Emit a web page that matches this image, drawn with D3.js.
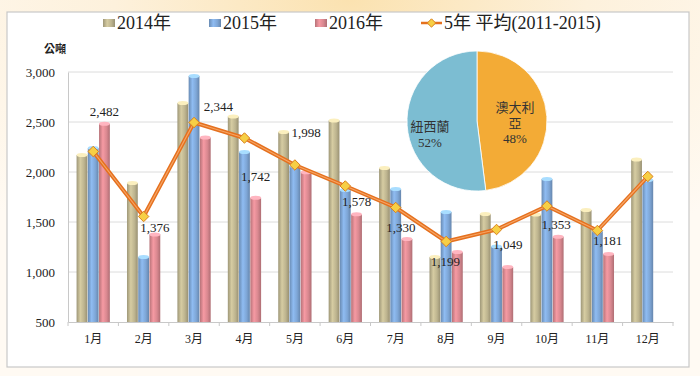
<!DOCTYPE html>
<html>
<head>
<meta charset="utf-8">
<script src="https://cdn.jsdelivr.net/npm/d3@7"></script>
<style>
  body { margin: 0; background: #fff; }
  svg { display: block; }
</style>
</head>
<body>
<svg id="chart" width="700" height="376"></svg>
<script>
"use strict";

// Data -------------------------------------------------------------------
const months = ["1月", "2月", "3月", "4月", "5月", "6月", "7月", "8月", "9月", "10月", "11月", "12月"];
const seriesNames = ["2014年", "2015年", "2016年"];
const values2014 = [2170, 1890, 2690, 2555, 2400, 2515, 2040, 1150, 1580, 1575, 1620, 2125];
const values2015 = [2240, 1150, 2960, 2200, 2060, 1820, 1830, 1600, 1255, 1930, 1410, 1920];
const values2016 = [2482, 1376, 2344, 1742, 1998, 1578, 1330, 1199, 1049, 1353, 1181, null];
const avgName = "5年 平均(2011-2015)";
const avg5yr = [2205, 1555, 2495, 2340, 2070, 1860, 1645, 1305, 1425, 1660, 1415, 1955];
const yTicks = [500, 1000, 1500, 2000, 2500, 3000];
const pieLabels = ["澳大利亞", "紐西蘭"];
const pieShares = [48, 52];

// Layout ---------------------------------------------------------------
const plot = { left: 68, right: 673, top: 72, bottom: 322 };
const frame = { x: 7, y: 12, w: 682, h: 355 };
// per-label nudges for the 2016 data labels (centre offset from bar top)
const labelNudge = [[0, -12], [0, -7], [13, -31], [0, -21], [0, -40], [0, -13],
  [-6, -12], [-12, 9], [0, -23], [-2, -12], [-1, -13], [0, 0]];

const serif = "'Liberation Serif', 'Times New Roman', 'Noto Sans CJK TC', serif";
const barColors = ["#bdb48f", "#7ea6d6", "#d98890"];
const lineColor = "#e5701e";

const svg = d3.select("#chart");
const defs = svg.append("defs");

// background glow
const bg = defs.append("radialGradient").attr("id", "bgGlow")
  .attr("cx", "50%").attr("cy", "0%").attr("r", "75%");
bg.append("stop").attr("offset", "0%").attr("stop-color", "#fbe2b0");
bg.append("stop").attr("offset", "45%").attr("stop-color", "#fdf1dc");
bg.append("stop").attr("offset", "100%").attr("stop-color", "#fffaf3");
svg.append("rect").attr("width", 700).attr("height", 376).attr("fill", "url(#bgGlow)");

svg.append("rect")
  .attr("x", frame.x).attr("y", frame.y)
  .attr("width", frame.w).attr("height", frame.h)
  .attr("fill", "#fff").attr("stroke", "#c8c8c8").attr("stroke-width", 1.2);

// cylinder gradients
barColors.forEach((c, i) => {
  const g = defs.append("linearGradient").attr("id", "bar" + i)
    .attr("x1", "0%").attr("x2", "100%");
  g.append("stop").attr("offset", "0%").attr("stop-color", d3.color(c).darker(0.5));
  g.append("stop").attr("offset", "35%").attr("stop-color", d3.color(c).brighter(0.35));
  g.append("stop").attr("offset", "70%").attr("stop-color", c);
  g.append("stop").attr("offset", "100%").attr("stop-color", d3.color(c).darker(0.6));
});

// Scales -----------------------------------------------------------------
const x = d3.scaleBand().domain(months).range([plot.left, plot.right])
  .paddingInner(0.34).paddingOuter(0.17);
const xs = d3.scaleBand().domain(seriesNames).range([0, x.bandwidth()]).paddingInner(0.04);
const y = d3.scaleLinear().domain([500, 3000]).range([plot.bottom, plot.top]);
const step = x.step();

// grid
svg.append("g").selectAll("line").data(yTicks.slice(1)).join("line")
  .attr("x1", plot.left).attr("x2", plot.right)
  .attr("y1", (d) => y(d)).attr("y2", (d) => y(d))
  .attr("stroke", "#dcdcdc").attr("stroke-width", 1);

// y axis
svg.append("g")
  .attr("transform", `translate(${plot.left},0)`)
  .call(d3.axisLeft(y).tickValues(yTicks).tickFormat(d3.format(",d")).tickSize(0).tickPadding(13))
  .call((g) => g.select(".domain").attr("stroke", "#c8c8c8"))
  .call((g) => g.selectAll("text")
    .attr("font-family", serif).attr("font-size", 13).attr("fill", "#222"));

svg.append("text")
  .attr("x", 55).attr("y", 53).attr("text-anchor", "middle")
  .attr("font-family", "'Noto Sans CJK TC', sans-serif").attr("font-weight", "bold")
  .attr("font-size", 11).attr("fill", "#222").text("公噸");

// x axis
svg.append("g")
  .attr("transform", `translate(0,${plot.bottom})`)
  .call(d3.axisBottom(x).tickSize(0).tickPadding(12))
  .call((g) => g.select(".domain").attr("stroke", "#c8c8c8"))
  .call((g) => g.selectAll("text")
    .attr("font-family", serif).attr("font-size", 12).attr("fill", "#222"));

svg.append("g").selectAll("line").data(d3.range(months.length + 1)).join("line")
  .attr("x1", (i) => plot.left + i * step).attr("x2", (i) => plot.left + i * step)
  .attr("y1", plot.bottom).attr("y2", plot.bottom + 4)
  .attr("stroke", "#c8c8c8");

// bars ---------------------------------------------------------------------
const seriesValues = [values2014, values2015, values2016];
const barData = [];
months.forEach((m, i) => {
  seriesNames.forEach((s, k) => {
    const v = seriesValues[k][i];
    if (v != null) barData.push({ month: m, series: s, k, v });
  });
});

const bars = svg.append("g").selectAll("g").data(barData).join("g");
bars.append("rect")
  .attr("x", (d) => x(d.month) + xs(d.series))
  .attr("y", (d) => y(d.v))
  .attr("width", xs.bandwidth())
  .attr("height", (d) => plot.bottom - y(d.v))
  .attr("fill", (d) => `url(#bar${d.k})`);
bars.append("ellipse")
  .attr("cx", (d) => x(d.month) + xs(d.series) + xs.bandwidth() / 2)
  .attr("cy", (d) => y(d.v))
  .attr("rx", xs.bandwidth() / 2)
  .attr("ry", 2)
  .attr("fill", (d) => d3.color(barColors[d.k]).brighter(0.8));

// 5 year average line
const cx = (i) => x(months[i]) + x.bandwidth() / 2;
const line = d3.line().x((d, i) => cx(i)).y((d) => y(d));
svg.append("path").datum(avg5yr).attr("d", line)
  .attr("fill", "none").attr("stroke", lineColor).attr("stroke-width", 4)
  .attr("stroke-linejoin", "round");
svg.append("path").datum(avg5yr).attr("d", line)
  .attr("fill", "none").attr("stroke", "#f6a565").attr("stroke-width", 1.2)
  .attr("stroke-linejoin", "round");

const diamond = d3.symbol().type(d3.symbolDiamond2).size(70);
svg.append("g").selectAll("path").data(avg5yr).join("path")
  .attr("d", diamond)
  .attr("transform", (d, i) => `translate(${cx(i)},${y(d)})`)
  .attr("fill", "#f7cf45").attr("stroke", "#d9801e").attr("stroke-width", 1);

// 2016 data labels
const labelData = values2016.map((v, i) => ({ v, i })).filter((d) => d.v != null);
svg.append("g").selectAll("text").data(labelData).join("text")
  .attr("x", (d) => x(months[d.i]) + xs("2016年") + xs.bandwidth() / 2 + labelNudge[d.i][0])
  .attr("y", (d) => y(d.v) + labelNudge[d.i][1])
  .attr("dy", "0.35em")
  .attr("text-anchor", "middle")
  .attr("font-family", serif).attr("font-size", 13).attr("fill", "#222")
  .text((d) => d3.format(",d")(d.v));

// pie ------------------------------------------------------------------------
const pieCenter = [477, 121], pieR = 70;
const pieColors = ["#f3ab36", "#7cbdd2"];
const arcs = d3.pie().sort(null)(pieShares);
const arc = d3.arc().innerRadius(0).outerRadius(pieR);
const pie = svg.append("g").attr("transform", `translate(${pieCenter})`);
pie.selectAll("path").data(arcs).join("path")
  .attr("d", arc).attr("fill", (d, i) => pieColors[i])
  .attr("stroke", "#fff").attr("stroke-width", 0.8);

const pieText = [
  { lines: ["澳大利", "亞", pieShares[0] + "%"], x: 38, y: -9 },
  { lines: [pieLabels[1], pieShares[1] + "%"], x: -47, y: 10 },
];
pieText.forEach((t) => {
  const tx = pie.append("text")
    .attr("text-anchor", "middle")
    .attr("font-family", serif).attr("font-size", 13).attr("fill", "#333");
  t.lines.forEach((l, j) => {
    tx.append("tspan").attr("x", t.x).attr("y", t.y + j * 15.5).text(l);
  });
});

// legend ---------------------------------------------------------------------
const legend = svg.append("g").attr("font-family", serif).attr("font-size", 18).attr("fill", "#222");
const legendX = [103, 209, 315];
seriesNames.forEach((s, k) => {
  const g = legend.append("g").attr("transform", `translate(${legendX[k]},22)`);
  g.append("rect").attr("x", 0).attr("y", -3).attr("width", 12).attr("height", 8)
    .attr("fill", `url(#bar${k})`);
  g.append("text").attr("x", 14).attr("y", 7).text(s);
});
const lg = legend.append("g").attr("transform", "translate(421,22)");
lg.append("line").attr("x1", 0).attr("x2", 21).attr("y1", 1).attr("y2", 1)
  .attr("stroke", lineColor).attr("stroke-width", 2.5);
lg.append("path").attr("d", d3.symbol().type(d3.symbolDiamond2).size(45))
  .attr("transform", "translate(10.5,1)")
  .attr("fill", "#f7cf45").attr("stroke", "#d9801e");
lg.append("text").attr("x", 23).attr("y", 7).text(avgName);
</script>
</body>
</html>
